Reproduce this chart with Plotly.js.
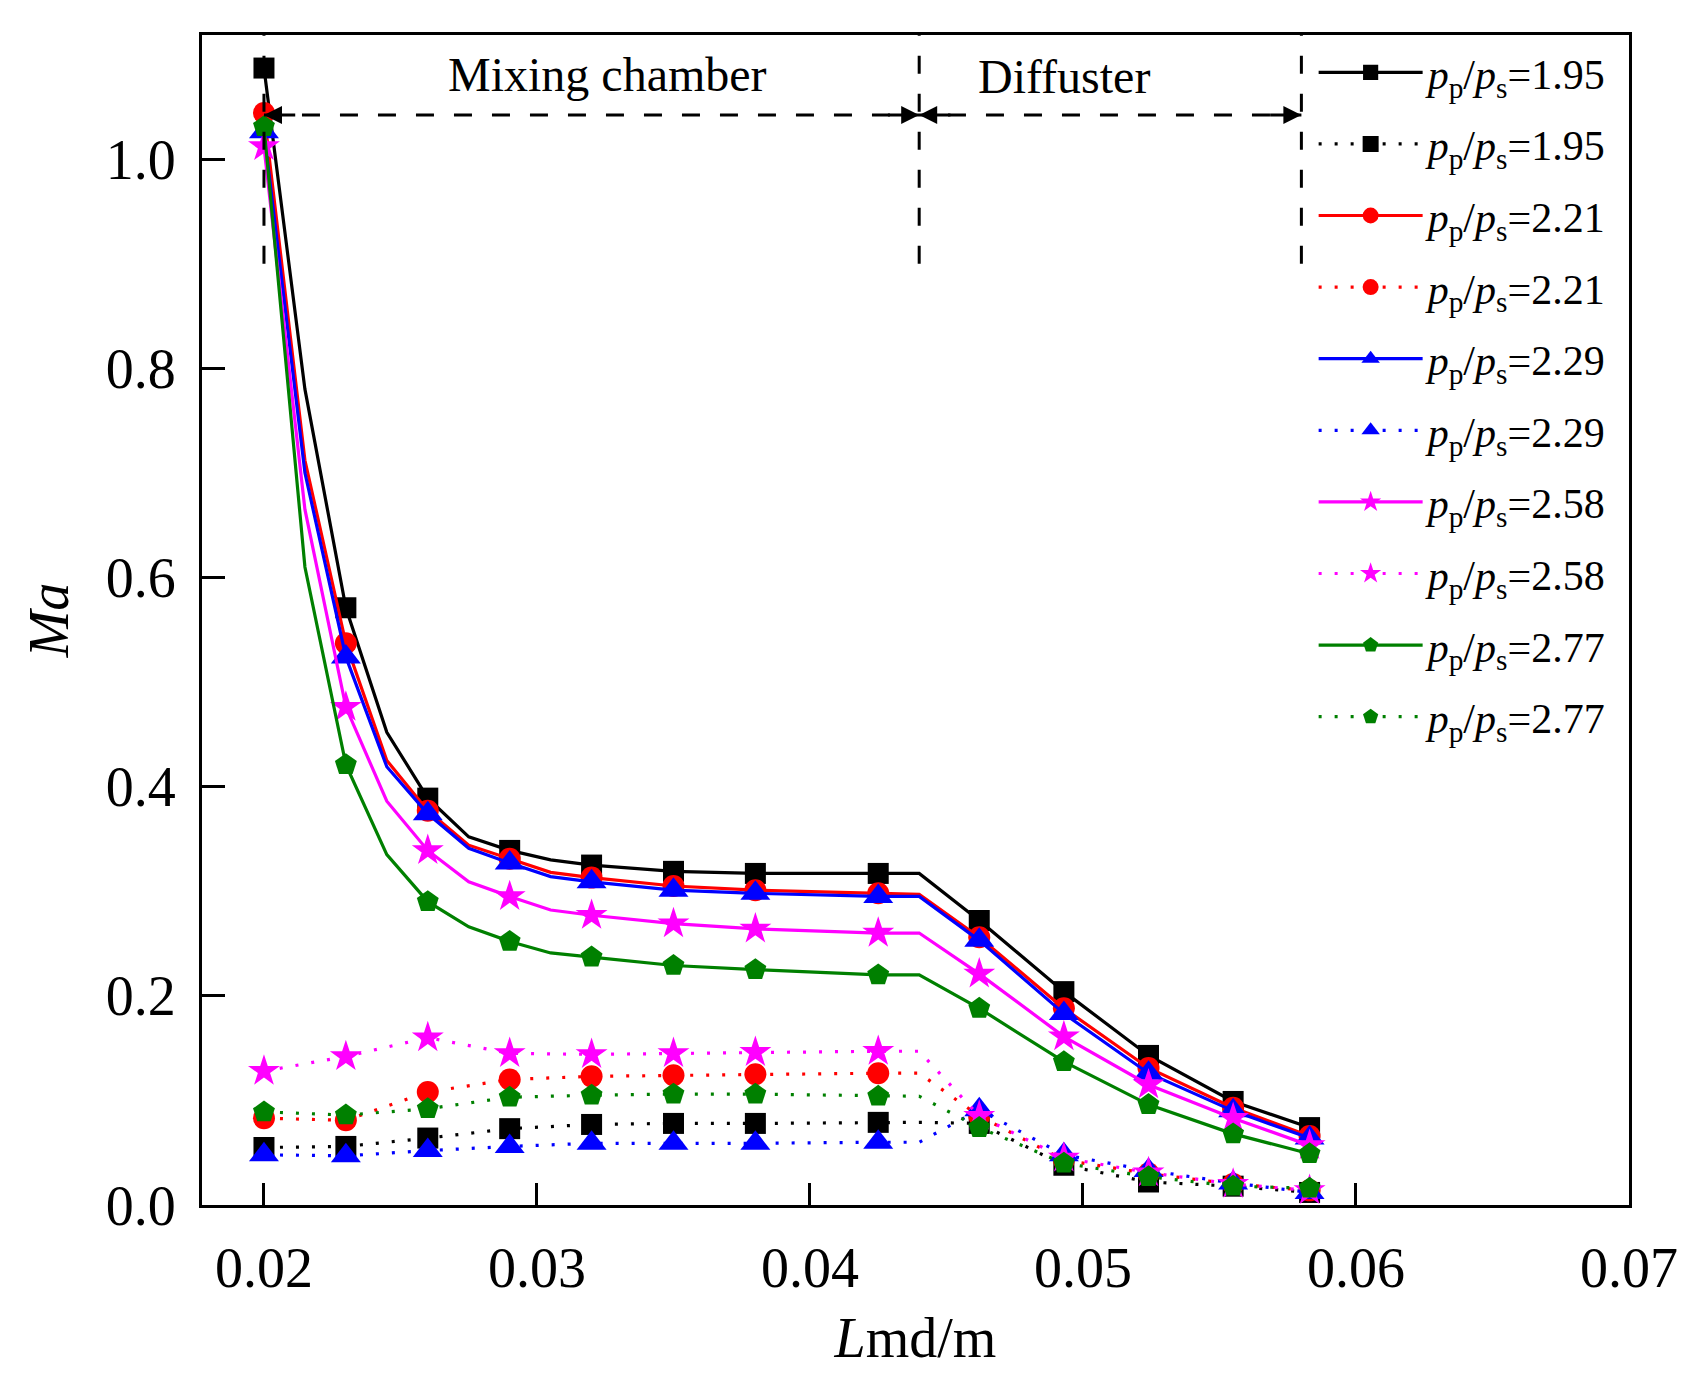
<!DOCTYPE html>
<html>
<head>
<meta charset="utf-8">
<script src="https://cdn.plot.ly/plotly-3.0.1.min.js"></script>
<style>
  html, body { margin: 0; padding: 0; background: #ffffff; }
  #chart { width: 1707px; height: 1377px; }
</style>
</head>
<body>
<div id="chart"></div>
<script>
// ---- data ----
// x positions (m) of marked points
const xMarkers = [0.0200, 0.0230, 0.0260, 0.0290, 0.0320, 0.0350, 0.0380, 0.0425, 0.0462, 0.0493, 0.0524, 0.0555, 0.0583];
// vertices of the solid curves (markers plus unmarked bends)
const xSolid = [0.0200, 0.0215, 0.0230, 0.0245, 0.0260, 0.0275, 0.0290, 0.0305, 0.0320, 0.0350, 0.0380, 0.0425, 0.0440, 0.0462, 0.0493, 0.0524, 0.0555, 0.0583];
// vertices of the dotted curves
const xDotted = [0.0200, 0.0230, 0.0260, 0.0290, 0.0320, 0.0350, 0.0380, 0.0425, 0.0440, 0.0462, 0.0493, 0.0524, 0.0555, 0.0583];

const ratioLabels = ["1.95", "2.21", "2.29", "2.58", "2.77"];

// solid curves
const solid195 = [1.087, 0.780, 0.571, 0.452, 0.389, 0.352, 0.339, 0.330, 0.325, 0.319, 0.317, 0.317, 0.317, 0.272, 0.204, 0.143, 0.099, 0.074];
const solid221 = [1.044, 0.712, 0.537, 0.425, 0.377, 0.344, 0.331, 0.318, 0.313, 0.305, 0.301, 0.298, 0.297, 0.256, 0.188, 0.131, 0.093, 0.066];
const solid229 = [1.026, 0.700, 0.524, 0.419, 0.374, 0.341, 0.327, 0.314, 0.309, 0.301, 0.298, 0.295, 0.295, 0.253, 0.183, 0.126, 0.090, 0.064];
const solid258 = [1.012, 0.665, 0.476, 0.386, 0.339, 0.309, 0.295, 0.282, 0.277, 0.269, 0.264, 0.260, 0.260, 0.221, 0.161, 0.115, 0.083, 0.057];
const solid277 = [1.031, 0.610, 0.421, 0.335, 0.290, 0.266, 0.252, 0.241, 0.237, 0.229, 0.225, 0.220, 0.220, 0.188, 0.137, 0.096, 0.068, 0.049];

// dotted curves
const dotted195 = [0.055, 0.056, 0.064, 0.073, 0.077, 0.078, 0.078, 0.079, 0.079, 0.078, 0.038, 0.022, 0.018, 0.012];
const dotted221 = [0.083, 0.081, 0.108, 0.120, 0.123, 0.124, 0.125, 0.126, 0.126, 0.085, 0.043, 0.030, 0.020, 0.014];
const dotted229 = [0.048, 0.047, 0.052, 0.056, 0.059, 0.059, 0.059, 0.060, 0.060, 0.091, 0.048, 0.033, 0.021, 0.012];
const dotted258 = [0.128, 0.142, 0.160, 0.145, 0.144, 0.145, 0.146, 0.147, 0.147, 0.085, 0.045, 0.031, 0.020, 0.014];
const dotted277 = [0.089, 0.086, 0.092, 0.103, 0.105, 0.106, 0.106, 0.104, 0.104, 0.074, 0.040, 0.027, 0.018, 0.016];

// region limits (m) and labels
const regionBounds = [0.0200, 0.0440, 0.0580];
const regionNames = ["Mixing chamber", "Diffuster"];
const arrowLevel = 1.042;
const dividerBottom = 0.90;

const xTicks = [0.02, 0.03, 0.04, 0.05, 0.06, 0.07];
const yTicks = [0.0, 0.2, 0.4, 0.6, 0.8, 1.0];

// ---- styling ----
const FONT = "'Liberation Serif', 'Times New Roman', serif";
const colors = ["#000000", "#ff0000", "#0000ff", "#ff00ff", "#008000"];
const symbols = ["square", "circle", "triangle-up", "star", "pentagon"];
const msize = [21, 22, 26, 24, 23];
const solidSets = [solid195, solid221, solid229, solid258, solid277];
const dottedSets = [dotted195, dotted221, dotted229, dotted258, dotted277];
const YMAX = 1.1186;

function sizesFor(xs, s) {
  return xs.map(x => xMarkers.some(m => Math.abs(m - x) < 1e-9) ? s : 0);
}
function legendName(r) {
  return "<i>p</i><sub>p</sub>/<i>p</i><sub>s</sub>=" + r;
}

const traces = [];
for (let i = 0; i < 5; i++) {
  traces.push({
    type: "scatter", mode: "lines+markers",
    x: xSolid, y: solidSets[i],
    name: legendName(ratioLabels[i]),
    legendgroup: "g" + i + "s",
    line: { color: colors[i], width: 3.2 },
    marker: { symbol: symbols[i], color: colors[i], opacity: 1, size: sizesFor(xSolid, msize[i]), line: { width: 0 } },
    cliponaxis: false
  });
  traces.push({
    type: "scatter", mode: "lines+markers",
    x: xDotted, y: dottedSets[i],
    name: legendName(ratioLabels[i]),
    legendgroup: "g" + i + "d",
    line: { color: colors[i], width: 3.2, dash: "3px,13px" },
    marker: { symbol: symbols[i], color: colors[i], opacity: 1, size: sizesFor(xDotted, msize[i]), line: { width: 0 } },
    cliponaxis: false
  });
}

const shapes = [];
// horizontal dashed dimension line
shapes.push({
  type: "line", xref: "x", yref: "y",
  x0: regionBounds[0], x1: regionBounds[2], y0: arrowLevel, y1: arrowLevel,
  line: { color: "#000", width: 3, dash: "18px,20px" }
});
// vertical dashed dividers
regionBounds.forEach(b => {
  shapes.push({
    type: "line", xref: "x", yref: "y",
    x0: b, x1: b, y0: dividerBottom, y1: YMAX,
    line: { color: "#000", width: 3, dash: "18px,20px" }
  });
});

const annotations = [];
// arrowheads
const arrowLen = 0.0012;
[[regionBounds[0], +1], [regionBounds[1], -1], [regionBounds[1], +1], [regionBounds[2], -1]].forEach(([xh, dir]) => {
  annotations.push({
    x: xh, y: arrowLevel, ax: xh + dir * arrowLen, ay: arrowLevel,
    xref: "x", yref: "y", axref: "x", ayref: "y",
    text: "", showarrow: true, arrowhead: 2, arrowsize: 1.2, arrowwidth: 3,
    arrowcolor: "#000", standoff: 0, startstandoff: 0
  });
});
annotations.push({
  x: (regionBounds[0] + regionBounds[1]) / 2 + 0.0006, y: 1.081, xref: "x", yref: "y",
  text: regionNames[0], showarrow: false,
  font: { family: FONT, size: 48, color: "#000" }
});
annotations.push({
  x: (regionBounds[1] + regionBounds[2]) / 2 - 0.0017, y: 1.079, xref: "x", yref: "y",
  text: regionNames[1], showarrow: false,
  font: { family: FONT, size: 48, color: "#000" }
});

const layout = {
  width: 1707, height: 1377,
  paper_bgcolor: "#ffffff", plot_bgcolor: "#ffffff",
  margin: { l: 202, r: 78, t: 35, b: 172, pad: 0 },
  font: { family: FONT, color: "#000", size: 56 },
  showlegend: true,
  legend: {
    x: 0.779, y: 0.997, xanchor: "left", yanchor: "top",
    bgcolor: "rgba(0,0,0,0)", borderwidth: 0,
    font: { family: FONT, size: 42, color: "#000" },
    tracegroupgap: 14, itemwidth: 104, maxheight: 1377
  },
  xaxis: {
    range: [0.01773, 0.07], tickvals: xTicks, tickformat: ".2f",
    ticks: "inside", ticklen: 22, tickwidth: 3, tickcolor: "#000",
    showline: true, linewidth: 3, linecolor: "#000", mirror: true,
    showgrid: false, zeroline: false,
    tickfont: { family: FONT, size: 56, color: "#000" },
    ticklabelstandoff: 12,
    title: { text: "<i>L</i>md/m", font: { family: FONT, size: 56, color: "#000" }, standoff: 20 },
    automargin: false
  },
  yaxis: {
    range: [0, YMAX], tickvals: yTicks, tickformat: ".1f",
    ticks: "inside", ticklen: 23, tickwidth: 3, tickcolor: "#000",
    showline: true, linewidth: 3, linecolor: "#000", mirror: true,
    showgrid: false, zeroline: false,
    tickfont: { family: FONT, size: 56, color: "#000" },
    ticklabelstandoff: 12,
    title: { text: "<i>Ma</i>", font: { family: FONT, size: 56, color: "#000" }, standoff: 20 },
    automargin: false
  },
  shapes: shapes,
  annotations: annotations
};

Plotly.newPlot("chart", traces, layout, { displayModeBar: false, staticPlot: true });
</script>
</body>
</html>
